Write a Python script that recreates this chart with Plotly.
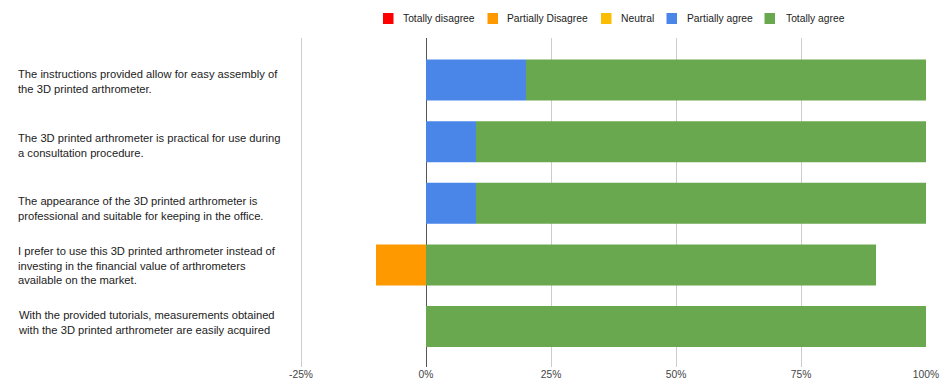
import plotly.graph_objects as go

questions = [
    "The instructions provided allow for easy assembly of<br>the 3D printed arthrometer.",
    "The 3D printed arthrometer is practical for use during<br>a consultation procedure.",
    "The appearance of the 3D printed arthrometer is<br>professional and suitable for keeping in the office.",
    "I prefer to use this 3D printed arthrometer instead of<br>investing in the financial value of arthrometers<br>available on the market.",
    "With the provided tutorials, measurements obtained<br>with the 3D printed arthrometer are easily acquired",
]
series_names = ["Totally disagree", "Partially Disagree", "Neutral", "Partially agree", "Totally agree"]
totally_disagree = [0, 0, 0, 0, 0]
partially_disagree = [0, 0, 0, -10, 0]
neutral = [0, 0, 0, 0, 0]
partially_agree = [20, 10, 10, 0, 0]
totally_agree = [80, 90, 90, 90, 100]
series_values = [totally_disagree, partially_disagree, neutral, partially_agree, totally_agree]
colors = ["#ff0000", "#ff9900", "#fbbc04", "#4a86e8", "#6aa84f"]
tick_vals = [-25, 0, 25, 50, 75, 100]
tick_text = ["-25%", "0%", "25%", "50%", "75%", "100%"]

FONT = "Liberation Sans, Arial, sans-serif"
W, H = 944, 381
ML, MR, MT, MB = 296, 18, 38, 14
PW, PH = W - ML - MR, H - MT - MB

def px_to_paper_x(px):
    return (px - ML) / PW

def px_to_paper_y(py):
    return 1 - (py - MT) / PH

ypos = list(range(len(questions)))

fig = go.Figure()
for name, vals, col in zip(series_names, series_values, colors):
    fig.add_trace(go.Bar(
        y=ypos, x=vals, name=name, orientation="h",
        marker=dict(color=col, line=dict(width=0)),
        width=0.665, showlegend=False,
    ))

# category labels (left aligned)
label_shift = [-1.5, -3.5, -5.5, -1, 4]
for yi, q, sh in zip(ypos, questions, label_shift):
    fig.add_annotation(
        x=px_to_paper_x(16), xref="paper", y=yi, yref="y", yshift=sh,
        text=q, showarrow=False, xanchor="left", yanchor="middle", align="left",
        font=dict(family=FONT, size=11.2, color="#222222"),
    )

# legend drawn as swatches + labels (layout positions in pixels)
legend_swatch_px = [383, 487.5, 601, 666.5, 764.5]
legend_text_px = [401, 505, 619, 684.5, 783.5]
legend_cy = 18.5
for name, col, sx, tx in zip(series_names, colors, legend_swatch_px, legend_text_px):
    fig.add_shape(
        type="rect", xref="paper", yref="paper",
        x0=px_to_paper_x(sx), x1=px_to_paper_x(sx + 10.5),
        y0=px_to_paper_y(legend_cy - 5.5), y1=px_to_paper_y(legend_cy + 5.5),
        fillcolor=col, line=dict(width=0),
    )
    fig.add_annotation(
        x=px_to_paper_x(tx), xref="paper", y=px_to_paper_y(legend_cy), yref="paper",
        text=name, showarrow=False, xanchor="left", yanchor="middle",
        font=dict(family=FONT, size=10.3, color="#222222"),
    )

fig.update_layout(
    width=W, height=H,
    margin=dict(l=ML, r=MR, t=MT, b=MB, autoexpand=False),
    barmode="relative",
    plot_bgcolor="white", paper_bgcolor="white",
    font=dict(family=FONT, size=11, color="#222222"),
    showlegend=False,
    xaxis=dict(
        range=[-26, 100], tickvals=tick_vals, ticktext=tick_text,
        showgrid=True, gridcolor="#cccccc", gridwidth=1,
        zeroline=True, zerolinecolor="#555555", zerolinewidth=1,
        showline=False, ticks="", tickfont=dict(size=10.3, color="#444444"),
        fixedrange=True, automargin=False,
    ),
    yaxis=dict(
        range=[4.657, -0.682], showticklabels=False, showgrid=False,
        zeroline=False, showline=False, ticks="", fixedrange=True, automargin=False,
    ),
)

fig.write_html("out.html")
